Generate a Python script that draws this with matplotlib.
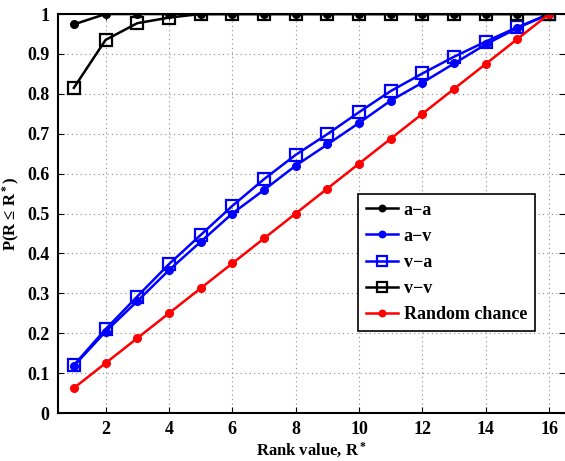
import numpy as np
import matplotlib
matplotlib.use("Agg")
import matplotlib.pyplot as plt

# cumulative probability of the true match lying within rank R*
rank = np.arange(1, 17)
aa = [0.974, 1, 1, 1, 1, 1, 1, 1, 1, 1, 1, 1, 1, 1, 1, 1]
av = [0.118, 0.204, 0.280, 0.358, 0.429, 0.500, 0.559, 0.620,
      0.673, 0.727, 0.783, 0.828, 0.876, 0.924, 0.965, 1.0]
va = [0.120, 0.210, 0.292, 0.373, 0.446, 0.519, 0.586, 0.647,
      0.699, 0.754, 0.807, 0.851, 0.893, 0.931, 0.967, 1.0]
vv = [0.815, 0.935, 0.977, 0.991, 1, 1, 1, 1, 1, 1, 1, 1, 1, 1, 1, 1]
chance = rank / 16.0

xticks = np.arange(2, 17, 2)
yticks = np.arange(0, 1.01, 0.1)

plt.rcParams['font.family'] = 'Liberation Serif'
plt.rcParams['font.weight'] = 'bold'
plt.rcParams['mathtext.fontset'] = 'custom'
plt.rcParams['mathtext.rm'] = 'Liberation Serif:bold'
plt.rcParams['mathtext.it'] = 'Liberation Serif:bold'
plt.rcParams['mathtext.default'] = 'rm'

fig = plt.figure(figsize=(5.65, 4.61), dpi=100)
ax = fig.add_axes([0.1027, 0.1041, 0.8973, 0.8655])

ax.plot(rank, aa, '-o', color='k', lw=1.8, ms=5.5, label='a\u2212a')
ax.plot(rank, av, '-o', color='b', lw=1.8, ms=5.5, label='a\u2212v')
ax.plot(rank, va, '-s', color='b', lw=1.8, ms=8, mfc='none', mew=1.6, label='v\u2212a')
ax.plot(rank, vv, '-s', color='k', lw=1.8, ms=8, mfc='none', mew=1.6, label='v\u2212v')
ax.plot(rank, chance, '-o', color='r', lw=1.8, ms=5.5, label='Random chance')

ax.set_xlim(0.5, 16.5)
ax.set_ylim(0, 1)
ax.set_xticks(xticks)
ax.set_yticks(yticks)
ax.set_xticklabels([str(t) for t in xticks], fontsize=13, fontweight='bold')
ax.set_yticklabels(['0'] + ['%.1f' % t for t in yticks[1:-1]] + ['1'],
                   fontsize=13, fontweight='bold')
ax.tick_params(axis='both', which='both', direction='in', length=4, width=0.8,
               top=True, right=True, pad=6)

ax.grid(True, linestyle=(0, (1, 3)), color='0.55', lw=0.8)
for s in ['left', 'bottom', 'top']:
    ax.spines[s].set_linewidth(1.5)
ax.spines['right'].set_visible(False)

ax.set_xlabel('Rank value, R$^*$', fontsize=12, fontweight='bold', labelpad=2)
ax.set_ylabel('P(R \u2264 R$^*$)', fontsize=12, fontweight='bold', labelpad=4)

leg = ax.legend(loc='lower right', bbox_to_anchor=(0.941, 0.2055), fontsize=13,
                frameon=True, fancybox=False, edgecolor='k', framealpha=1,
                borderpad=0.45, handlelength=1.8, handletextpad=0.3,
                labelspacing=0.5, borderaxespad=0, markerscale=0.85)
leg.get_frame().set_linewidth(1.2)

fig.savefig('out.png', dpi=100)
